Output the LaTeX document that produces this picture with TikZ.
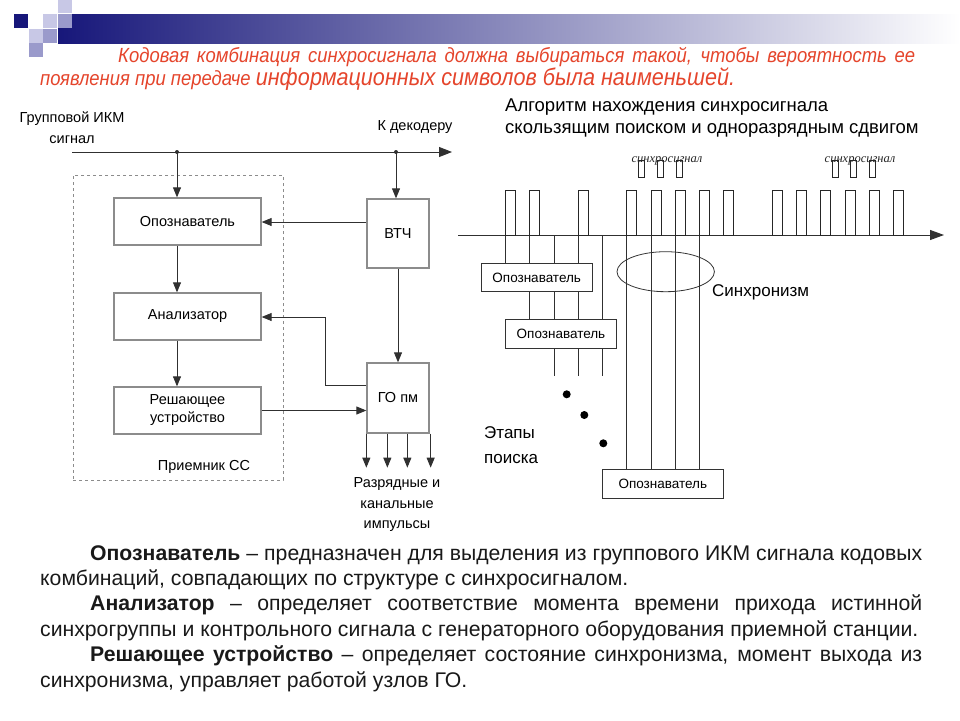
\documentclass[tikz,border=0pt]{standalone}
\usepackage{fontspec}
\setmainfont{Liberation Sans}
\newfontfamily\narrowfont[FakeStretch=0.9]{Liberation Sans}
\newfontfamily\timesfont{Liberation Serif}
\usetikzlibrary{arrows.meta,shapes.geometric,backgrounds}
\definecolor{navyb}{HTML}{17177A}
\definecolor{lavA}{HTML}{C8C8E6}
\definecolor{lavB}{HTML}{9A9ACB}
\definecolor{titlered}{HTML}{E5452C}
\definecolor{boxgray}{HTML}{8C8C8C}
\definecolor{linec}{HTML}{303030}
\begin{document}
\begin{tikzpicture}[x=1pt,y=-1pt,
  lbox/.style={draw=boxgray, line width=1.3pt, fill=white, inner sep=0pt, font=\fontsize{14.5}{18}\selectfont, align=center},
  rbox/.style={draw=black!80, line width=0.9pt, fill=white, inner sep=0pt, font=\fontsize{13.5}{16}\selectfont},
  arr/.style={draw=linec, line width=0.9pt, -{Triangle[length=10pt,width=8pt]}},
  bigarr/.style={draw=linec, line width=0.9pt, -{Triangle[length=14pt,width=10pt]}},
  ln/.style={draw=linec, line width=0.8pt},
  lbl/.style={inner sep=0pt, font=\fontsize{14.5}{20.5}\selectfont, align=center},
  rlbl/.style={inner sep=0pt, font=\fontsize{17}{25}\selectfont, align=left},
  sstext/.style={inner sep=0pt, text=black!85, font=\timesfont\itshape\fontsize{12.5}{14}\selectfont},
  pulse/.style={draw=black!85, line width=0.8pt},
]
\useasboundingbox (0,0) rectangle (960,720);
\begin{pgfonlayer}{background}
\fill[white] (0,0) rectangle (960,720);
\end{pgfonlayer}

% ---------- header decoration ----------
\shade[left color=navyb, right color=white] (58,14) rectangle (960,43);
\fill[navyb] (14,14) rectangle (28,28);
\fill[lavA] (58,0) rectangle (72,13);
\fill[lavA] (43,14) rectangle (57,28);
\fill[lavB] (58,14) rectangle (72,28);
\fill[lavA] (29,29) rectangle (43,43);
\fill[lavB] (43,29) rectangle (57,43);
\fill[lavB] (29,43) rectangle (43,57);

% ---------- title ----------
\node[anchor=north west, inner sep=0pt, text width=875, align=justify, text=titlered,
      font=\narrowfont\itshape\fontsize{20.5}{23}\selectfont] (title) at (40,47)
 {\hspace*{78pt}Кодовая комбинация синхросигнала должна выбираться такой, чтобы вероятность ее\linebreak
  появления при передаче {\fontsize{24}{23}\selectfont информационных символов была наименьшей.}};

% ---------- left block diagram ----------
\coordinate (inp) at (72,152);
\coordinate (outp) at (452,152);
\coordinate (d1) at (177,152);
\coordinate (d2) at (396,152);
\coordinate (y222) at (0,222);
\coordinate (y385) at (0,385);
\coordinate (y317) at (0,317);

\node[draw=boxgray, dashed, line width=0.8pt, minimum width=210, minimum height=305, inner sep=0pt] (rcv) at (178,327.5) {};

\node[lbox, minimum width=147, minimum height=47] (op) at (187.5,221.5) {Опознаватель};
\node[lbox, minimum width=147, minimum height=47] (an) at (187.5,316.5) {Анализатор};
\node[lbox, minimum width=147, minimum height=47] (rs) at (187.5,410.5) {Решающее\\устройство};
\node[lbox, minimum width=62, minimum height=69] (vtch) at (398,233.5) {ВТЧ};
\node[lbox, minimum width=62, minimum height=70] (go) at (398,398) {ГО пм};

\node[lbl] (grp) at (72,127.5) {Групповой ИКМ\\сигнал};
\node[lbl] (dec) at (415,127) {К декодеру};
\node[lbl] (rcvl) at (204,467) {Приемник СС};
\node[lbl] (outl) at (397,505) {Разрядные и\\канальные\\импульсы};

\draw[arr, -{Triangle[length=13pt,width=10pt]}] (inp) -- (outp);
\fill[linec] (d1) circle (2);
\fill[linec] (d2) circle (2);
\draw[arr] (d1) -- (d1 |- op.north);
\draw[arr] (d2) -- (d2 |- vtch.north);
\draw[arr] (vtch.west |- y222) -- (op.east |- y222);
\draw[arr] (op.south -| d1) -- (an.north -| d1);
\draw[arr] (an.south -| d1) -- (rs.north -| d1);
\draw[arr] (vtch.south) -- (go.north);
\draw[arr] (go.west |- y385) -- (325,385) -- (325,317) -- (an.east |- y317);
\draw[arr] (rs.east) -- (go.west |- rs.east);
\draw[arr] (go.south west) -- ++(0,34);
\draw[arr] ([xshift=21pt]go.south west) -- ++(0,34);
\draw[arr] ([xshift=41pt]go.south west) -- ++(0,34);
\draw[arr] ([xshift=1pt]go.south east) -- ++(0,34);

% ---------- right: algorithm ----------
\node[rlbl, anchor=west, font=\fontsize{18.5}{22.5}\selectfont] (alg) at (505,118) {Алгоритм нахождения синхросигнала\\скользящим поиском и одноразрядным сдвигом};

\coordinate (ax0) at (458,235);
\coordinate (ax1) at (944,235);
\draw[bigarr] (ax0) -- (ax1);

\foreach \k in {0,1,3,5,6,7,8,9,11,12,13,14,15,16}{
  \draw[pulse] (505.5+24.25*\k,235) rectangle ++(10,-45);
}

\node[sstext] (ss1) at (667,161) {синхросигнал};
\node[sstext] (ss2) at (860,161) {синхросигнал};
\foreach \x in {638,657,676,832,850,869}{
  \draw[pulse] (\x,160) rectangle ++(6.5,17);
}

\node[rbox, minimum width=111.3, minimum height=28.4] (r1) at (536.7,277.5) {Опознаватель};
\node[rbox, minimum width=111.4, minimum height=29] (r2) at (561,333.8) {Опознаватель};
\node[rbox, minimum width=121, minimum height=29] (r3) at (662.8,483.8) {Опознаватель};

\foreach \k in {0,...,8}{
  \coordinate (v\k) at (505.5+24.25*\k,235);
}
\begin{pgfonlayer}{background}
\draw[ln] (v0) -- (v0 |- r1.north);
\draw[ln] (v1) -- (v1 |- r2.north);
\foreach \k in {2,3,4}{
  \draw[ln] (v\k) -- ++(0,141);
}
\foreach \k in {5,6,7,8}{
  \draw[ln] (v\k) -- (v\k |- r3.north);
}
\end{pgfonlayer}

\node[draw=black!80, line width=0.8pt, ellipse, minimum width=97.4, minimum height=40, inner sep=0pt] (sync) at (665.7,271.7) {};
\node[rlbl, anchor=west] (syncl) at (712,292) {Синхронизм};

\fill (566.7,394.3) circle (4);
\fill (584.3,415) circle (4);
\fill (603.3,443.3) circle (4);

\node[rlbl, anchor=west, font=\fontsize{17}{25}\selectfont] (steps) at (484,445) {Этапы\\поиска};

% ---------- bottom text ----------
\node[anchor=north west, inner sep=0pt, text width=882, align=justify, text=black!90,
      font=\fontsize{21.2}{25.4}\selectfont] (desc) at (40,545)
 {\hyphenpenalty=10000\exhyphenpenalty=10000
  \hspace*{50pt}\textbf{Опознаватель} – предназначен для выделения из группового ИКМ сигнала кодовых\linebreak
  комбинаций, совпадающих по структуре с синхросигналом.\par
  \hspace*{50pt}\textbf{Анализатор} – определяет соответствие момента времени прихода истинной\linebreak
  синхрогруппы и контрольного сигнала с генераторного оборудования приемной станции.\par
  \hspace*{50pt}\textbf{Решающее устройство} – определяет состояние синхронизма, момент выхода из\linebreak
  синхронизма, управляет работой узлов ГО.\par};
\end{tikzpicture}
\end{document}
